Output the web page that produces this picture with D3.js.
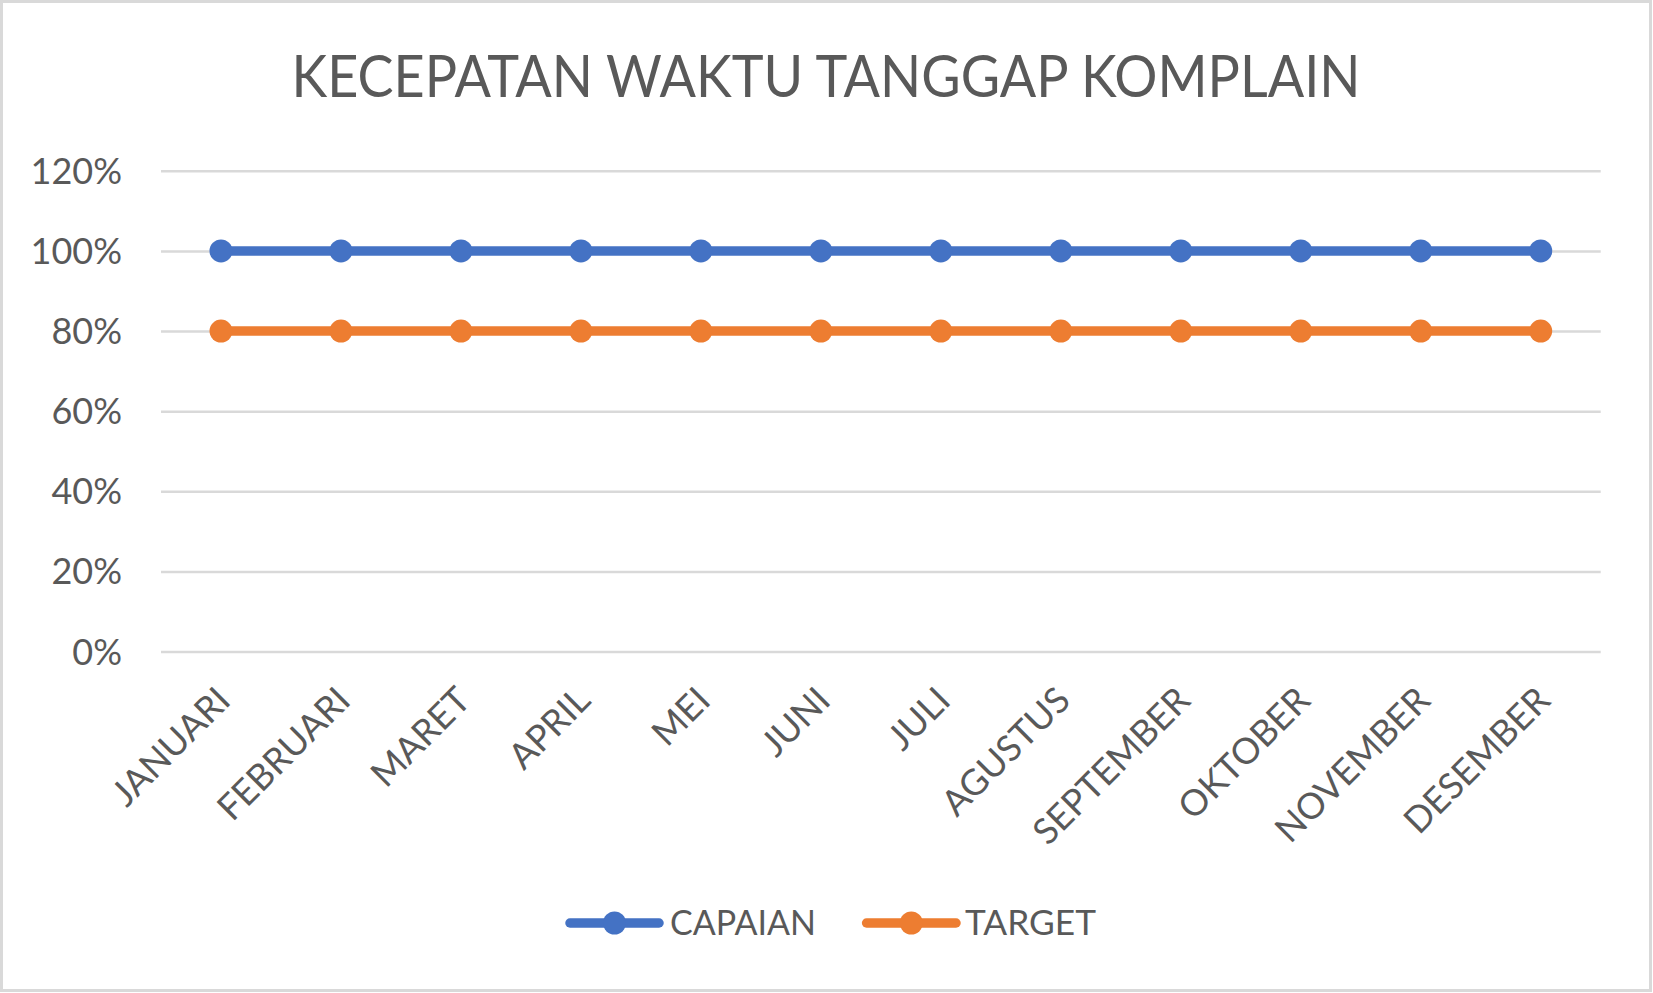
<!DOCTYPE html>
<html><head><meta charset="utf-8">
<script src="https://cdn.jsdelivr.net/npm/d3@7/dist/d3.min.js"></script>
<style>html,body{margin:0;padding:0;background:#fff;}svg{display:block;}</style>
</head><body>
<script>
const months = ["JANUARI","FEBRUARI","MARET","APRIL","MEI","JUNI","JULI","AGUSTUS","SEPTEMBER","OKTOBER","NOVEMBER","DESEMBER"];
const capaian = [1,1,1,1,1,1,1,1,1,1,1,1];
const target = [0.8,0.8,0.8,0.8,0.8,0.8,0.8,0.8,0.8,0.8,0.8,0.8];
const yTicks = [0,0.2,0.4,0.6,0.8,1.0,1.2];
const seriesNames = ["CAPAIAN","TARGET"];
const seriesColors = ["#4472C4","#ED7D31"];
const titleText = "KECEPATAN WAKTU TANGGAP KOMPLAIN";

const W = 1653, H = 993;
const FONT = "Lato, 'Open Sans', sans-serif";
const TXT = "#595959";
const svg = d3.select("body").append("svg").attr("width", W).attr("height", H);
svg.append("rect").attr("x",1.5).attr("y",1.5).attr("width",W-4).attr("height",H-4)
  .attr("fill","#fff").attr("stroke","#d9d9d9").attr("stroke-width",3);

const x = d3.scalePoint().domain(months).range([161,1600.7]).padding(0.5);
const y = d3.scaleLinear().domain([0,1.2]).range([651.5,170.8]);

// title
svg.append("text").attr("x",826).attr("y",97).attr("text-anchor","middle")
  .attr("font-family",FONT).attr("font-size",58).attr("fill",TXT)
  .attr("textLength",1069).attr("lengthAdjust","spacingAndGlyphs").text(titleText);

// gridlines
const yAxis = d3.axisLeft(y).tickValues(yTicks).tickSize(-(1600.7-161)).tickFormat(d3.format(".0%"));
const gy = svg.append("g").attr("transform","translate(161,0)").call(yAxis);
gy.select(".domain").remove();
gy.selectAll(".tick line").attr("stroke","#d9d9d9").attr("stroke-width",2.5);
gy.selectAll(".tick text").attr("x",-39).attr("font-family",FONT).attr("font-size",36).attr("fill",TXT).attr("dy","0.35em");

// x axis labels
const xAxis = d3.axisBottom(x).tickSize(0);
const gx = svg.append("g").attr("transform","translate(0,651.5)").call(xAxis);
gx.select(".domain").remove();
gx.selectAll(".tick text").attr("font-family",FONT).attr("font-size",36).attr("fill",TXT)
  .attr("text-anchor","end").attr("dy",null).attr("y",0)
  .attr("transform","translate(11,51) rotate(-45)");

// series
const line = d3.line().x((d,i)=>x(months[i])).y(d=>y(d));
[capaian,target].forEach((s,k)=>{
  svg.append("path").datum(s).attr("d",line).attr("fill","none")
    .attr("stroke",seriesColors[k]).attr("stroke-width",9.5).attr("stroke-linecap","round");
  svg.append("g").selectAll("circle").data(s).join("circle")
    .attr("cx",(d,i)=>x(months[i])).attr("cy",d=>y(d)).attr("r",11.5).attr("fill",seriesColors[k]);
});

// legend
const leg = [{x0:566,x1:663,tx:670,tl:146},{x0:862.6,x1:960,tx:965,tl:131}];
leg.forEach((L,k)=>{
  const g = svg.append("g");
  g.append("line").attr("x1",L.x0+4).attr("x2",L.x1-4).attr("y1",923).attr("y2",923)
    .attr("stroke",seriesColors[k]).attr("stroke-width",9.5).attr("stroke-linecap","round");
  g.append("circle").attr("cx",(L.x0+L.x1)/2).attr("cy",923).attr("r",11.5).attr("fill",seriesColors[k]);
  g.append("text").attr("x",L.tx).attr("y",935).attr("font-family",FONT).attr("font-size",34)
    .attr("fill",TXT).attr("textLength",L.tl).attr("lengthAdjust","spacingAndGlyphs").text(seriesNames[k]);
});
</script>
</body></html>
